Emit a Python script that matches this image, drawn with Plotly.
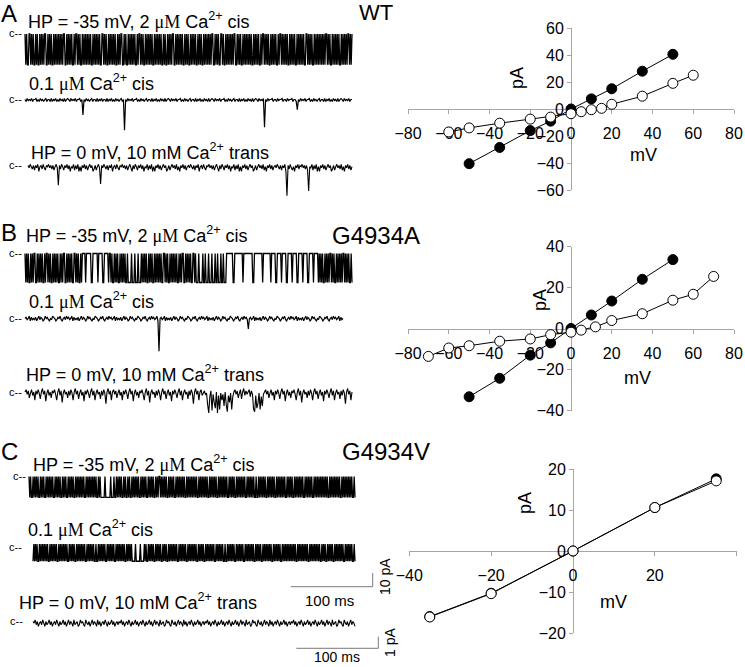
import plotly.graph_objects as go

W, H = 745, 667
FONT = "Liberation Sans, Arial, sans-serif"

# ---------------- I-V data ----------------
WT_mV_filled = [-50, -35, -20, -10, 0, 10, 20, 35, 50]
WT_pA_filled = [-40.5, -28.5, -16, -9, 0, 7.5, 15, 28, 40.5]
WT_mV_open = [-60, -50, -35, -20, -10, 0, 5, 10, 15, 20, 35, 50, 60]
WT_pA_open = [-17, -14, -10.5, -7.5, -6, -3.5, -2, -0.5, 0.5, 3.5, 9.5, 19, 25]

GA_mV_filled = [-50, -35, -20, -10, 0, 10, 20, 35, 50]
GA_pA_filled = [-33.3, -24.3, -13, -7, 0, 6.6, 13.4, 24, 33.6]
GA_mV_open = [-70, -60, -50, -35, -20, -10, 0, 5, 12, 20, 35, 50, 60, 70]
GA_pA_open = [-13.6, -9.5, -8.4, -6.2, -5.1, -3, -1.8, -0.8, 0.8, 3.9, 7.2, 13.8, 16.7, 25.4]

GV_mV_filled = [-35, -20, 0, 20, 35]
GV_pA_filled = [-16, -10.3, 0, 10.6, 17.6]
GV_mV_open = [-35, -20, 0, 20, 35]
GV_pA_open = [-16.1, -10.4, 0, 10.6, 17.1]

# ---------------- single-channel records ----------------
# each character = one sample, base-36 level code; current = (base - code) * step (pA)
RECORD_MS = 400
A1_levels = ("0909900909099090990909090099090909909090" "9090909009909090909909009090990909090909"
             "0990909090909900909099090909090990909009" "9090990909090909909009090990909090909909"
             "0909090990909909090900990909090909909090" "9909090909909090990909090909009909090990"
             "0909909090909090099090909909090909090990" "9090909909009090909909090909909009090909"
             "0990909090990909090909900909090990909090" "9090909009090990909090909909090909009090")
A1_base, A1_step = 0, 2.5
A2_levels = ("1302120311031302131031130312031302130310" "1302120311031" "g"
             "1302131031130312031130312031302131031" "v"
             "1302120311031302131031130312031302130310" "1302120311031302131031130312031302130310"
             "1302120311031302131031130312031302130310" "1302120" "s"
             "13021103113021103113021103113" "b"
             "1302120311031302131031130312031302130310" "1302120311")
A2_base, A2_step = 1, 0.75
A3_levels = ("3524637352843625734253637425" "k"
             "36247352638452736284835263742538637425" "j"
             "3524637352843625734253637425836247352638" "4527362848352637425386374253627483526374"
             "3524637352843625734253637425836247352638" "4527362848352637425386374253627483526374"
             "35246373528" "t" "3625748352634253637" "p"
             "4527362848352637425386374253627483526374")
A3_base, A3_step = 3, 0.1

B1_levels = ("09090990909009909090909909009090990909090990909009909090909900909099090"
             "000900000099000000900000990000090" "0909909090990909090990" "999909990999099909"
             "090909909090990909090909900909099090909090990909009909090909900909"
             "9909999099099909990999099099909909990"
             "0000000990000000000900000000000990000000000900000"
             "0000900000990000090000099000009000009900000900000990000090000"
             "0909090990909090090909909090909009090909909")
B1_base, B1_step = 0, 2.35
B2_levels = ("2132041323142031243021342301243120342130" "2132041323142031243021342301243120342130"
             "2132041323142031243021342301243120342130" "213204" "u"
             "2132041323142031243021342301243120342130" "2132041323142031243021342301243120342130"
             "213" "b"
             "2132041323142031243021342301243120342130" "2132041323142031243021342301243120342130"
             "213204132")
B2_base, B2_step = 2, 0.85
B3_levels = ("5374a6385c4736b5274d6385a4637c5284e6375a" "4836c5274b6385d4736a5284c6375b4836f5274c"
             "5374a6385c4736b5274d6385a4637c5284e6375a" "4836c5274b6385d4736a5284c6375b4836f5274c"
             "538647" "6gn94l7ej5n8k6c7h5gm8e6k9" "5374a63b528475394" "7km8jf6k9h7"
             "5374a6385c4736b5274d6385a4637c5284e6375a" "4836c5274b6385d4736a5284c6375b4836f5274c" "5")
B3_base, B3_step = 5, 0.1

C1_levels = ("0909909090909909090990909090909909090909" "9090909909090909909090909090990909090909"
             "0909909099999099999909990990909090990909" "9090990909090909909090909909090909909090"
             "0909090909909090909909090909090990909090" "9090909909090909090990909090909909090909"
             "0909909090909909090909090990909090909909" "9090909090990909090909909090909090990909"
             "0909909090909090990909090909909090909090" "9090909909090909090909909090909090909909")
C1_base, C1_step = 0, 1.7
C2_levels = ("9090909909090909090990909090909909090909" "0909909090909909090909090990909090909909"
             "9090909090990909090909909090909090990909" "0909999099999099990909909090909909090909"
             "9090909909090909090990909090909909090909" "0909909090909909090909090990909090909909"
             "9090909090990909090909909090909090990909" "0909909090909090990909090909909090909090"
             "9090909909090909090909909090909090909909" "0909909090909909090909090990909090909909")
C2_base, C2_step = 0, 1.4
C3_levels = ("3425364352463542536435246354253642534625" "4365243562453642534625364352463542536435"
             "3425364352463542536435246354253642534625" "4365243562453642534625364352463542536435"
             "3425364352463542536435246354253642534625" "4365243562453642534625364352463542536435"
             "3425364352463542536435246354253642534625" "43652435624536425346")
C3_base, C3_step = 3, 0.14

SCALE_MS = 100
SCALE_PA_BIG = 10
SCALE_PA_SMALL = 1


def fx(px):
    return px / W


def fy(py):
    return 1 - py / H


def decode(levels, base, step):
    return [(base - int(c, 36)) * step for c in levels]


fig = go.Figure()
layout = dict(width=W, height=H, autosize=False,
              margin=dict(l=0, r=0, t=0, b=0, pad=0, autoexpand=False),
              paper_bgcolor="white", plot_bgcolor="rgba(0,0,0,0)",
              showlegend=False, font=dict(family=FONT, color="black"))

# (levels, base, step, px per pA, x0 px, x1 px, closed-level px, line width)
records = [
    (A1_levels, A1_base, A1_step, 1.37, 25, 352, 34, 1.3),
    (A2_levels, A2_base, A2_step, 1.37, 25, 352, 99.5, 1.2),
    (A3_levels, A3_base, A3_step, 11.6, 28, 352, 165.5, 1.1),
    (B1_levels, B1_base, B1_step, 1.37, 25, 352, 253.5, 1.3),
    (B2_levels, B2_base, B2_step, 1.37, 25, 343, 318.5, 1.2),
    (B3_levels, B3_base, B3_step, 11.6, 25, 352, 392, 1.1),
    (C1_levels, C1_base, C1_step, 1.37, 29, 355, 476.5, 1.3),
    (C2_levels, C2_base, C2_step, 1.37, 33, 355, 544, 1.3),
    (C3_levels, C3_base, C3_step, 11.6, 33, 355, 621.5, 1.1),
]

for i, (lv, base, step, ppp, x0, x1, cpx, lw) in enumerate(records, start=1):
    vals = decode(lv, base, step)
    n = len(vals)
    t = [k * RECORD_MS / (n - 1) for k in range(n)]
    xa = "x" if i == 1 else f"x{i}"
    ya = "y" if i == 1 else f"y{i}"
    fig.add_trace(go.Scatter(x=t, y=vals, mode="lines", xaxis=xa, yaxis=ya,
                             line=dict(color="black", width=lw, simplify=False),
                             hoverinfo="skip"))
    up, down = 14, 45
    pad_ms = 2 * RECORD_MS / (x1 - x0)
    layout["xaxis" if i == 1 else f"xaxis{i}"] = dict(
        domain=[fx(x0 - 2), fx(x1 + 2)], range=[-pad_ms, RECORD_MS + pad_ms],
        visible=False, automargin=False)
    layout["yaxis" if i == 1 else f"yaxis{i}"] = dict(
        domain=[fy(cpx + down), fy(cpx - up)], range=[-down / ppp, up / ppp],
        visible=False, anchor=xa, automargin=False)


# scale bars (axes 10, 11)
def bar_axes(idx, px0, px1, py_bottom, py_top, vx, vy):
    pad = 3
    sx = (px1 - px0) / vx
    sy = (py_bottom - py_top) / vy
    layout[f"xaxis{idx}"] = dict(domain=[fx(px0 - pad), fx(px1 + pad)],
                                 range=[-pad / sx, vx + pad / sx], visible=False, automargin=False)
    layout[f"yaxis{idx}"] = dict(domain=[fy(py_bottom + pad), fy(py_top - pad)],
                                 range=[-pad / sy, vy + pad / sy], visible=False,
                                 anchor=f"x{idx}", automargin=False)
    fig.add_trace(go.Scatter(x=[0, vx, vx], y=[0, 0, vy], mode="lines",
                             xaxis=f"x{idx}", yaxis=f"y{idx}",
                             line=dict(color="#7a7a7a", width=1), hoverinfo="skip"))


bar_axes(10, 290.7, 372.7, 586.7, 573, SCALE_MS, SCALE_PA_BIG)
bar_axes(11, 296.3, 378.3, 648.3, 636.7, SCALE_MS, SCALE_PA_SMALL)

# I-V plots (axes 12, 13, 14)
iv = [
    (12, WT_mV_filled, WT_pA_filled, WT_mV_open, WT_pA_open, (408, 734), (-80, 80), (190, 28), (-60, 60), 20),
    (13, GA_mV_filled, GA_pA_filled, GA_mV_open, GA_pA_open, (408, 734), (-80, 80), (410.5, 246.5), (-40, 40), 20),
    (14, GV_mV_filled, GV_pA_filled, GV_mV_open, GV_pA_open, (409.3, 736.7), (-40, 40), (633, 469), (-20, 20), 10),
]
axis_gray = "#a6a6a6"
for idx, mf, pf, mo, po, (px0, px1), xr, (pyb, pyt), yr, ydt in iv:
    x0px = px0 + (0 - xr[0]) / (xr[1] - xr[0]) * (px1 - px0)
    y0px = pyb - (0 - yr[0]) / (yr[1] - yr[0]) * (pyb - pyt)
    common = dict(showgrid=False, zeroline=False, showline=True, linecolor=axis_gray,
                  linewidth=1, ticks="outside", ticklen=4, tickcolor=axis_gray,
                  tickfont=dict(family=FONT, size=16, color="black"), layer="below traces",
                  automargin=False)
    layout[f"xaxis{idx}"] = dict(domain=[fx(px0), fx(px1)], range=list(xr), dtick=20,
                                 tick0=0, anchor="free", position=fy(y0px),
                                 ticklabelstandoff=6, **common)
    layout[f"yaxis{idx}"] = dict(domain=[fy(pyb), fy(pyt)], range=list(yr), dtick=ydt,
                                 tick0=0, anchor="free", position=fx(x0px), **common)
    for mx, py, fill in ((mf, pf, "black"), (mo, po, "white")):
        fig.add_trace(go.Scatter(x=mx, y=py, mode="lines+markers",
                                 xaxis=f"x{idx}", yaxis=f"y{idx}", cliponaxis=False,
                                 line=dict(color="black", width=1),
                                 marker=dict(size=10, color=fill, line=dict(color="black", width=1)),
                                 hoverinfo="skip"))

# ---------------- text ----------------
ann = []


def text(s, px, py, size, xanchor="left", angle=0, family=FONT):
    ann.append(dict(text=s, x=fx(px), y=fy(py), xref="paper", yref="paper",
                    xanchor=xanchor, yanchor="middle", showarrow=False, textangle=angle,
                    font=dict(family=family, size=size, color="black")))


MU = ("<span style=\"font-family:'Liberation Serif', 'Times New Roman', serif;"
      "font-size:18px\">μM</span>")
t_hp35 = f"HP = -35 mV, 2 {MU} Ca<sup>2+</sup> cis"
t_01 = f"0.1 {MU} Ca<sup>2+</sup> cis"
t_hp0 = "HP = 0 mV, 10 mM Ca<sup>2+</sup> trans"

for letter, ly in (("A", 13), ("B", 232), ("C", 451)):
    text(letter, -1, ly, 24)

text(t_hp35, 26, 20, 18)
text(t_01, 27, 82, 18)
text(t_hp0, 29, 151, 18)
text(t_hp35, 24, 235, 18)
text(t_01, 27, 300, 18)
text(t_hp0, 24, 373, 18)
text(t_hp35, 31, 463, 18)
text(t_01, 26, 528, 18)
text(t_hp0, 17, 601, 18)

for cx, cy in ((7, 34), (7, 99.5), (7, 165.5), (7, 253.5), (7, 318.5), (7, 392.5),
               (11, 476.5), (7, 548), (8, 621.5)):
    text("c--", cx, cy - 1, 11)

text("WT", 376, 12, 22, xanchor="center")
text("G4934A", 376, 236, 24, xanchor="center")
text("G4934V", 386, 451, 24, xanchor="center")

text("100 ms", 329, 600, 15, xanchor="center")
text("100 ms", 337, 657, 14, xanchor="center")
text("10 pA", 385, 577, 14, xanchor="center", angle=-90)
text("1 pA", 390, 643, 14, xanchor="center", angle=-90)

for (mx, my), (px_, py_) in (((643, 155), (517, 78)), ((637, 378), (540, 300)), ((613, 602), (525, 503))):
    text("mV", mx, my, 18, xanchor="center")
    text("pA", px_, py_, 18, xanchor="center", angle=-90)

layout["annotations"] = ann
fig.update_layout(**layout)
fig.write_html("out.html", config={"responsive": False, "displayModeBar": False},
               post_script="document.body.style.margin='0';document.body.style.overflow='hidden';")
